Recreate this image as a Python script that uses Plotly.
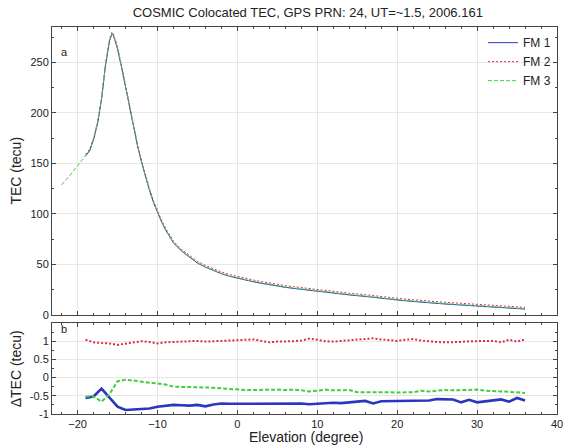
import plotly.graph_objects as go

# ---------------- data ----------------
elev_tec = [-22, -21.5, -21, -20.5, -20, -19.5, -19, -18.5, -18, -17.5, -17, -16.5, -16,
            -15.7, -15.5, -15, -14.5, -14, -13.5, -13, -12.5, -12, -11.5, -11, -10.5, -10,
            -9.5, -9, -8.5, -8, -7, -6, -5, -4, -3, -2, -1, 0, 1, 2, 3, 4, 5, 6, 7, 8, 9, 10,
            12, 14, 16, 18, 20, 22, 24, 26, 28, 30, 32, 34, 36]

tec_fm1 = [None, None, None, None, None, None,
           157.3, 162.3, 173.3, 189.3, 213.3, 247.3, 271.3, 278.3, 276.3, 263.3, 245.3, 225.3,
           205.3, 185.3, 167.3, 151.3, 136.3, 123.3, 111.3, 101.3, 92.3, 84.3, 77.3, 71.3,
           63.3, 57.3, 51.3, 47.3, 43.8, 40.8, 38.3, 36.3, 34.3, 32.8, 31.3, 29.8, 28.3, 27.3,
           26.3, 25.3, 24.3, 23.3, 21.3, 19.8, 18.3, 16.3, 14.8, 13.3, 11.8, 10.8, 9.8, 8.8,
           7.8, 6.8, 5.8]
tec_fm2 = [None, None, None, None, None, None,
           159, 164, 175, 191, 215, 249, 273, 280, 278, 265, 247, 227, 207, 187, 169, 153, 138,
           125, 113, 103, 94, 86, 79, 73, 65, 59, 53, 49, 45.5, 42.5, 40, 38, 36, 34.5, 33,
           31.5, 30, 29, 28, 27, 26, 25, 23, 21.5, 20, 18, 16.5, 15, 13.5, 12.5, 11.5, 10.5,
           9.5, 8.5, 7.5]
tec_fm3 = [128.7, 132.7, 137.7, 142.7, 147.7, 152.7, 157.7, 162.7, 173.7, 189.7, 213.7, 247.7,
           271.7, 278.7, 276.7, 263.7, 245.7, 225.7, 205.7, 185.7, 167.7, 151.7, 136.7, 123.7,
           111.7, 101.7, 92.7, 84.7, 77.7, 71.7, 63.7, 57.7, 51.7, 47.7, 44.2, 41.2, 38.7, 36.7,
           34.7, 33.2, 31.7, 30.2, 28.7, 27.7, 26.7, 25.7, 24.7, 23.7, 21.7, 20.2, 18.7, 16.7,
           15.2, 13.7, 12.2, 11.2, 10.2, 9.2, 8.2, 7.2, 6.2]

elev_d = list(range(-19, 37))
dtec_fm1 = [-0.56, -0.52, -0.30, -0.55, -0.80, -0.89, -0.88, -0.86, -0.85, -0.80, -0.78, -0.75,
            -0.76, -0.77, -0.75, -0.79, -0.74, -0.71, -0.72, -0.72, -0.72, -0.71, -0.72, -0.71,
            -0.70, -0.71, -0.70, -0.71, -0.73, -0.71, -0.70, -0.69, -0.70, -0.69, -0.66, -0.64,
            -0.71, -0.65, -0.65, -0.64, -0.63, -0.64, -0.64, -0.63, -0.59, -0.59, -0.60, -0.68,
            -0.61, -0.68, -0.66, -0.64, -0.60, -0.66, -0.56, -0.63]
dtec_fm2 = [1.04, 0.97, 0.95, 0.94, 0.90, 0.93, 0.96, 1.00, 0.98, 0.94, 0.97, 0.99, 0.99, 1.00,
            1.01, 0.99, 1.00, 1.01, 1.03, 1.04, 1.05, 1.05, 1.01, 0.97, 0.99, 0.99, 1.00, 1.02,
            1.07, 1.04, 1.00, 0.99, 1.01, 1.02, 1.04, 1.05, 1.08, 1.05, 1.04, 1.01, 1.04, 1.06,
            1.02, 0.99, 0.98, 0.97, 0.97, 0.98, 1.00, 1.01, 1.01, 1.01, 0.97, 1.04, 0.99, 1.05]
dtec_fm3 = [-0.52, -0.52, -0.66, -0.45, -0.10, -0.06, -0.08, -0.12, -0.14, -0.16, -0.19, -0.25,
            -0.26, -0.26, -0.27, -0.27, -0.28, -0.30, -0.32, -0.34, -0.34, -0.34, -0.33, -0.33,
            -0.33, -0.34, -0.33, -0.35, -0.38, -0.36, -0.33, -0.35, -0.34, -0.34, -0.40, -0.40,
            -0.39, -0.38, -0.40, -0.41, -0.40, -0.40, -0.36, -0.38, -0.36, -0.34, -0.35, -0.34,
            -0.34, -0.33, -0.36, -0.38, -0.38, -0.39, -0.41, -0.42]

dtec_ticks = [-1, -0.5, 0, 0.5, 1]

names = ["FM 1", "FM 2", "FM 3"]
colors = ["#2a35c0", "#e02a45", "#3fcf3f"]
dashes = ["solid", "2px,2px", "4px,2px"]

# ---------------- figure ----------------
fig = go.Figure()
for name, ys, c, d in zip(names, [tec_fm1, tec_fm2, tec_fm3], colors, dashes):
    fig.add_trace(go.Scatter(x=elev_tec, y=ys, name=name, mode="lines",
                             line=dict(color=c, width=1, dash=d),
                             xaxis="x", yaxis="y", showlegend=True))
widths = [2.6, 2.0, 2.0]
for name, ys, c, d, w in zip(names, [dtec_fm1, dtec_fm2, dtec_fm3], colors, dashes, widths):
    fig.add_trace(go.Scatter(x=elev_d, y=ys, name=name, mode="lines",
                             line=dict(color=c, width=w, dash=d),
                             xaxis="x2", yaxis="y2", showlegend=False))

FONT = "Liberation Sans, Arial, sans-serif"
axcol = "#444444"
gridcol = "#e6e6e6"

common_x = dict(range=[-23.2, 40], showline=True, linecolor=axcol, linewidth=1, mirror="ticks",
                ticks="inside", ticklen=4, tickcolor=axcol, dtick=10, tick0=0,
                showgrid=True, gridcolor=gridcol, gridwidth=1, zeroline=False,
                minor=dict(dtick=2, ticks="inside", ticklen=2, tickcolor=axcol, showgrid=False),
                tickfont=dict(family=FONT, size=11, color="#222222"))
common_y = dict(showline=True, linecolor=axcol, linewidth=1, mirror="ticks",
                ticks="inside", ticklen=4, tickcolor=axcol,
                showgrid=True, gridcolor=gridcol, gridwidth=1, zeroline=False,
                tickfont=dict(family=FONT, size=11, color="#222222"))

fig.update_layout(
    width=570, height=448,
    margin=dict(l=52, r=7, t=27, b=34),
    paper_bgcolor="white", plot_bgcolor="white",
    font=dict(family=FONT, size=11, color="#222222"),
    title=dict(text="COSMIC Colocated TEC, GPS PRN: 24, UT=~1.5, 2006.161",
               x=0.54, xanchor="center", y=0.972, yanchor="middle",
               font=dict(family=FONT, size=13, color="#222222")),
    xaxis=dict(**common_x, anchor="y", showticklabels=False, domain=[0, 1]),
    yaxis=dict(**common_y, domain=[0.256, 1], range=[0, 285], dtick=50,
               minor=dict(dtick=25, ticks="inside", ticklen=2, tickcolor=axcol, showgrid=False)),
    xaxis2=dict(**common_x, anchor="y2", matches="x", domain=[0, 1]),
    yaxis2=dict(**common_y, domain=[0, 0.235], range=[-1, 1.5], tickmode="array",
                tickvals=dtec_ticks, ticktext=[f"{v:g}" for v in dtec_ticks],
                minor=dict(dtick=0.25, tick0=0, ticks="inside", ticklen=2, tickcolor=axcol,
                           showgrid=False)),
    legend=dict(x=0.998, y=0.997, xanchor="right", yanchor="top", bgcolor="rgba(255,255,255,0)",
                borderwidth=0, font=dict(family=FONT, size=12, color="#222222"),
                itemwidth=30, tracegroupgap=0),
    annotations=[
        dict(text="a", xref="paper", yref="paper", x=0.014, y=0.935, showarrow=False,
             xanchor="left", yanchor="middle", font=dict(family=FONT, size=11)),
        dict(text="b", xref="paper", yref="paper", x=0.014, y=0.22, showarrow=False,
             xanchor="left", yanchor="middle", font=dict(family=FONT, size=11)),
        dict(text="TEC (tecu)", xref="paper", yref="paper", x=-0.072, y=0.628, showarrow=False,
             textangle=-90, xanchor="center", yanchor="middle",
             font=dict(family=FONT, size=14, color="#222222")),
        dict(text="ΔTEC (tecu)", xref="paper", yref="paper", x=-0.072, y=0.117, showarrow=False,
             textangle=-90, xanchor="center", yanchor="middle",
             font=dict(family=FONT, size=14, color="#222222")),
        dict(text="Elevation (degree)", xref="paper", yref="paper", x=0.502, y=-0.06,
             showarrow=False, xanchor="center", yanchor="middle",
             font=dict(family=FONT, size=14, color="#222222")),
    ],
)

fig.write_html("out.html")
